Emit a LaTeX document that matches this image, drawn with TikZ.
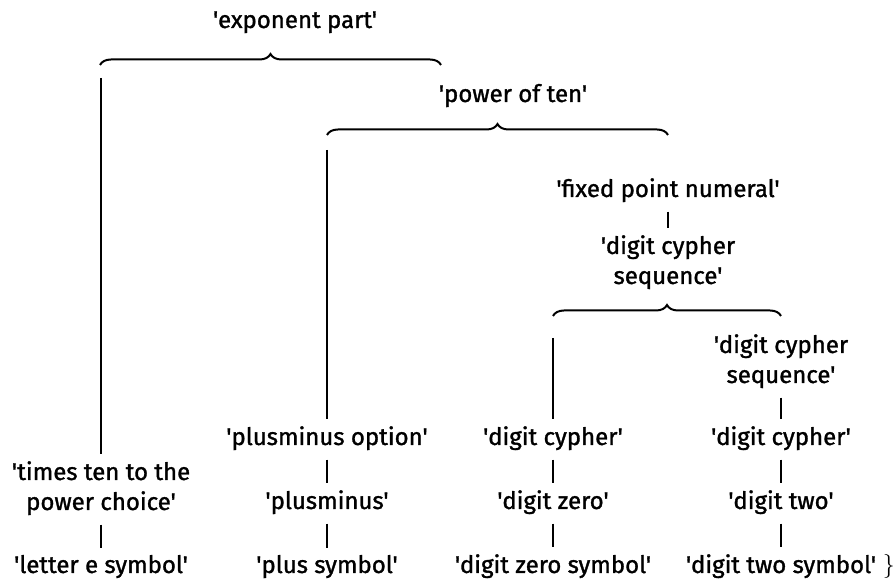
\documentclass[tikz,border=0pt]{standalone}
\usepackage{fontspec}
\newfontfamily\lblfont[FakeBold=1.3]{Fira Sans}
\usetikzlibrary{decorations.pathreplacing}

\tikzset{
  lbl/.style={inner xsep=0pt, inner ysep=0pt, align=center, anchor=base,
    font=\lblfont\fontsize{12}{15}\selectfont},
  conn/.style={semithick, shorten <=4.5pt, shorten >=3.3pt},
  brc/.style={line width=1pt, decorate, decoration={brace, amplitude=5.5pt}},
}

\begin{document}
\begin{tikzpicture}[x=0.5pt, y=-0.5pt]
    \useasboundingbox (0,0) rectangle (896,581);

    \pgfmathsetmacro{\colA}{101}
    \pgfmathsetmacro{\colB}{327}
    \pgfmathsetmacro{\colC}{553}
    \pgfmathsetmacro{\colD}{781}

    % upper labels (two-line nodes sit on their last line)
    \node[lbl] (expo) at (295,28) {'exponent part'};
    \node[lbl] (pow) at (513,102) {'power of ten'};
    \node[lbl] (fixed) at (668,197) {'fixed point numeral'};
    \node[lbl] (seqA) at (668,284) {'digit cypher\\sequence'};
    \node[lbl] (seqB) at (\colD,383) {'digit cypher\\sequence'};

    % lower rows
    \node[lbl] (times) at (\colA,510) {'times ten to the\\power choice'};
    \node[lbl] (pmopt) at (\colB,445) {'plusminus option'};
    \node[lbl] (cyA) at (\colC,445) {'digit cypher'};
    \node[lbl] (cyB) at (\colD,445) {'digit cypher'};

    \node[lbl] (pm) at (\colB,509) {'plusminus'};
    \node[lbl] (zero) at (\colC,509) {'digit zero'};
    \node[lbl] (two) at (\colD,509) {'digit two'};

    \node[lbl] (lete) at (\colA,573) {'letter e symbol'};
    \node[lbl] (plus) at (\colB,573) {'plus symbol'};
    \node[lbl] (zerosym) at (\colC,573) {'digit zero symbol'};
    \node[lbl] (twosym) at (\colD,573) {'digit two symbol'};
    \node[anchor=base west, inner sep=0pt, font=\fontsize{12}{15}\selectfont] (close) at ([xshift=3pt]twosym.base east) {$\}$};

    % braces
    \draw[brc] (100,65) -- (441,65);
    \draw[brc] (\colB,135) -- (668,135);
    \draw[brc] (\colC,316) -- (\colD,316);

    \coordinate (stemA) at (\colA,78);
    \coordinate (stemB) at (\colB,150);
    \coordinate (stemC) at (\colC,338);

    % connectors
    \draw[conn, shorten <=0pt] (stemA) -- (times.north);
    \draw[conn, shorten <=0pt] (stemB) -- (pmopt.north);
    \draw[conn, shorten <=0pt] (stemC) -- (cyA.north);
    \draw[conn] (fixed.south) -- (seqA.north);
    \draw[conn] (seqB.south) -- (cyB.north);
    \draw[conn] (times.south) -- (lete.north);
    \draw[conn] (pmopt.south) -- (pm.north);
    \draw[conn] (pm.south) -- (plus.north);
    \draw[conn] (cyA.south) -- (zero.north);
    \draw[conn] (zero.south) -- (zerosym.north);
    \draw[conn] (cyB.south) -- (two.north);
    \draw[conn] (two.south) -- (twosym.north);
\end{tikzpicture}
\end{document}
